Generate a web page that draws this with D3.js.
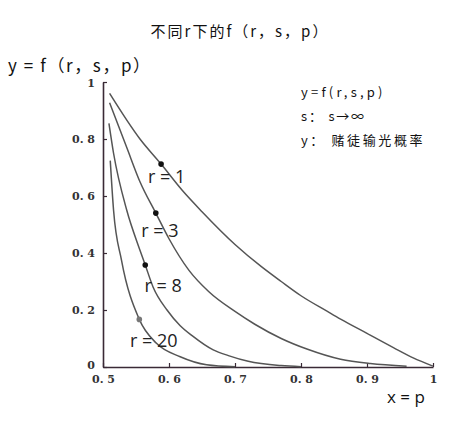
<!DOCTYPE html>
<html><head><meta charset="utf-8">
<script src="https://cdn.jsdelivr.net/npm/d3@7"></script>
<style>
body{margin:0;background:#fff;}
svg{display:block;}
</style></head>
<body>
<script>
// ---- data ----
const xTicks = [0.5, 0.6, 0.7, 0.8, 0.9, 1];
const yTicks = [0, 0.2, 0.4, 0.6, 0.8, 1];
const xTickLabels = ["0. 5", "0. 6", "0. 7", "0. 8", "0. 9", "1"];
const yTickLabels = ["0", "0. 2", "0. 4", "0. 6", "0. 8", "1"];
const seriesNames = ["r = 1", "r = 3", "r = 8", "r = 20"];
const curveR1 = [[0.51,0.96],[0.556,0.80],[0.588,0.712],[0.62,0.62],[0.65,0.545],[0.70,0.43],[0.74,0.352],[0.77,0.30],[0.80,0.25],[0.84,0.195],[0.86,0.168],[0.90,0.118],[0.94,0.068],[0.97,0.032],[1.0,0.003]];
const curveR3 = [[0.51,0.927],[0.536,0.77],[0.556,0.65],[0.58,0.54],[0.60,0.45],[0.63,0.34],[0.66,0.265],[0.70,0.195],[0.73,0.15],[0.77,0.10],[0.81,0.062],[0.86,0.027],[0.905,0.012],[0.96,0.003]];
const curveR8 = [[0.509,0.855],[0.516,0.75],[0.536,0.55],[0.556,0.41],[0.564,0.358],[0.576,0.28],[0.597,0.20],[0.617,0.145],[0.635,0.11],[0.667,0.06],[0.69,0.04],[0.72,0.02],[0.77,0.005],[0.80,0.001]];
const curveR20 = [[0.511,0.724],[0.516,0.55],[0.528,0.375],[0.555,0.167],[0.581,0.083],[0.617,0.036],[0.657,0.008],[0.70,0.001]];
const dots = [[0.588,0.712],[0.58,0.54],[0.564,0.358],[0.555,0.167]];
const labelPos = [[0.568,0.645],[0.558,0.455],[0.563,0.263],[0.541,0.07]];
const title = "不同r下的f（r，s，p）";
const yTitle = "y = f（r，s，p）";
const xTitle = "x = p";
const legendLines = ["y=f(r,s,p)", "s：  s→∞", "y：  赌徒输光概率"];

// ---- chart ----
const W = 470, H = 424;
const svg = d3.select("body").append("svg").attr("width", W).attr("height", H);
const x = d3.scaleLinear().domain([0.5, 1]).range([103, 433]);
const y = d3.scaleLinear().domain([0, 1]).range([367, 82]);
const axisColor = "#3a2a36";
const cjk = "'Noto Sans CJK SC','Noto Sans',sans-serif";

svg.append("text").attr("x", 240).attr("y", 37).attr("text-anchor", "middle")
  .attr("font-family", cjk).attr("font-size", 15).attr("letter-spacing", 2)
  .attr("fill", "#111").text(title);
svg.append("text").attr("x", 8).attr("y", 72)
  .attr("font-family", cjk).attr("font-size", 17).attr("letter-spacing", 1.6)
  .attr("fill", "#111").text(yTitle);

const legendSpacing = [3.2, 1.8, 2.6];
const legend = svg.append("g").attr("font-family", cjk).attr("font-size", 13).attr("fill", "#111");
legendLines.forEach((t, i) => {
  legend.append("text").attr("x", 301).attr("y", 97 + i * 24)
    .attr("letter-spacing", legendSpacing[i]).text(t);
});

// axes
const xAxis = d3.axisBottom(x).tickValues(xTicks).tickSize(-4).tickFormat((d, i) => xTickLabels[i]).tickSizeOuter(0);
const gx = svg.append("g").attr("transform", `translate(0,${y(0)})`).call(xAxis);
gx.select(".domain").attr("stroke", axisColor).attr("stroke-width", 1.6);
gx.selectAll(".tick line").attr("stroke", axisColor).attr("stroke-width", 1.2);
gx.selectAll(".tick text").attr("y", 12).attr("dy", "0.35em")
  .attr("font-family", "'DejaVu Serif',serif").attr("font-weight", "bold").attr("font-size", 11).attr("fill", "#333");

const yAxis = d3.axisLeft(y).tickValues(yTicks).tickSize(-4).tickFormat((d, i) => yTickLabels[i]).tickSizeOuter(0);
const gy = svg.append("g").attr("transform", `translate(${x(0.5)},0)`).call(yAxis);
gy.select(".domain").attr("stroke", axisColor).attr("stroke-width", 1.6);
gy.selectAll(".tick line").attr("stroke", axisColor).attr("stroke-width", 1.2);
gy.selectAll(".tick text").attr("x", -8)
  .attr("font-family", "'DejaVu Serif',serif").attr("font-weight", "bold").attr("font-size", 11).attr("fill", "#333");
gy.selectAll(".tick").filter(d => d === 0).select("text").attr("y", -2);
gy.selectAll(".tick").filter(d => d === 1).select("text").attr("y", 1);

// curves
const line = d3.line().x(d => x(d[0])).y(d => y(d[1])).curve(d3.curveMonotoneX);
[curveR1, curveR3, curveR8, curveR20].forEach(c => {
  svg.append("path").datum(c).attr("d", line).attr("fill", "none")
    .attr("stroke", "#555").attr("stroke-width", 1.5);
});

svg.selectAll("circle.dot").data(dots).enter().append("circle")
  .attr("cx", d => x(d[0])).attr("cy", d => y(d[1])).attr("r", 2.8)
  .attr("fill", (d, i) => i === 3 ? "#777" : "#111");

svg.selectAll("text.lbl").data(labelPos).enter().append("text")
  .attr("x", d => x(d[0])).attr("y", d => y(d[1]))
  .attr("font-family", "'Open Sans','Noto Sans',sans-serif").attr("font-size", 18)
  .attr("fill", "#222").text((d, i) => seriesNames[i]);

svg.append("text").attr("x", 387).attr("y", 403)
  .attr("font-family", "'Open Sans','Noto Sans',sans-serif").attr("font-size", 17)
  .attr("fill", "#111").text(xTitle);
</script>
</body></html>
